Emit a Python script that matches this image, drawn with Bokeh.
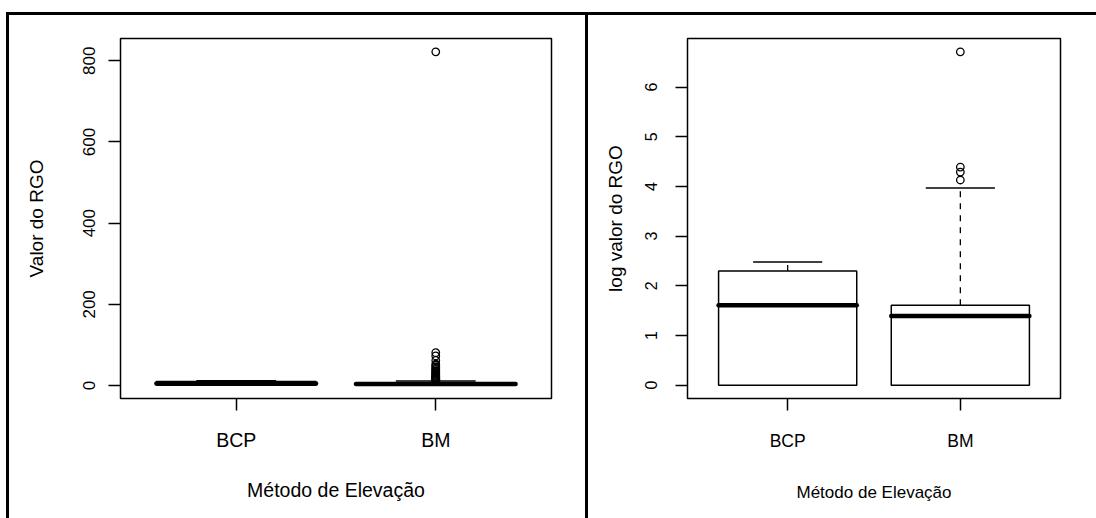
from bokeh.plotting import figure
from bokeh.layouts import row
from bokeh.models import Range1d, FactorRange, ColumnDataSource, SingleIntervalTicker
from bokeh.transform import dodge
from bokeh.embed import file_html
from bokeh.resources import INLINE

categories = ["BCP", "BM"]

# Left panel: raw RGO values (box statistics)
raw_low = [1, 1]
raw_q1 = [1, 1]
raw_median = [5, 4]
raw_q3 = [10, 5]
raw_high = [12, 11]
raw_out_cat = ["BM"] * 24
raw_out_val = [12.5, 13, 14, 15, 16, 18, 20, 21, 23, 25, 27, 30, 32, 35, 37, 40,
               43, 46, 50, 53, 62, 73, 81, 822]

# Right panel: log of RGO values
log_low = [0, 0]
log_q1 = [0, 0]
log_median = [1.61, 1.39]
log_q3 = [2.30, 1.61]
log_high = [2.48, 3.97]
log_out_cat = ["BM"] * 4
log_out_val = [4.13, 4.29, 4.39, 6.71]

FONT = "Liberation Sans"


def panel(width, height, borders, lo, q1, med, q3, hi, ocat, oval, tick_iv,
          ylabel, fonts, ystand, xstand, styles):
    allv = lo + hi + oval
    vmin, vmax = min(allv), max(allv)
    pad = 0.04 * (vmax - vmin)
    p = figure(width=width, height=height, output_backend="svg", toolbar_location=None,
               x_range=FactorRange(factors=categories, range_padding=0.08),
               y_range=Range1d(vmin - pad, vmax + pad),
               min_border_left=borders[0], min_border_right=borders[1],
               min_border_top=borders[2], min_border_bottom=borders[3],
               styles=styles)
    p.background_fill_color = "white"
    p.border_fill_color = "white"
    p.grid.visible = False
    p.outline_line_color = "black"
    p.outline_line_width = 1.5
    src = ColumnDataSource(dict(cat=categories, lo=lo, q1=q1, med=med, q3=q3, hi=hi))
    # whiskers (dashed)
    p.segment(x0="cat", y0="q3", x1="cat", y1="hi", source=src, line_color="black",
              line_width=1.3, line_dash="6 6")
    p.segment(x0="cat", y0="lo", x1="cat", y1="q1", source=src, line_color="black",
              line_width=1.3, line_dash="6 6")
    # staples
    for col in ("hi", "lo"):
        p.segment(x0=dodge("cat", -0.2, range=p.x_range), y0=col,
                  x1=dodge("cat", 0.2, range=p.x_range), y1=col, source=src,
                  line_color="black", line_width=1.5)
    # boxes
    p.quad(left=dodge("cat", -0.4, range=p.x_range), right=dodge("cat", 0.4, range=p.x_range),
           bottom="q1", top="q3", source=src, fill_color="white", line_color="black",
           line_width=1.5)
    # medians
    p.segment(x0=dodge("cat", -0.4, range=p.x_range), y0="med",
              x1=dodge("cat", 0.4, range=p.x_range), y1="med", source=src,
              line_color="black", line_width=4.5, line_cap="round")
    # outliers
    osrc = ColumnDataSource(dict(cat=ocat, val=oval))
    p.scatter(x="cat", y="val", source=osrc, marker="circle", size=7.5,
              fill_color=None, line_color="black", line_width=1.3)

    p.yaxis.ticker = SingleIntervalTicker(interval=tick_iv, num_minor_ticks=0)
    for ax in (p.xaxis[0], p.yaxis[0]):
        ax.axis_line_color = None
        ax.major_tick_out = 12
        ax.major_tick_in = 0
        ax.major_tick_line_width = 1.5
        ax.major_tick_line_color = "black"
        ax.minor_tick_line_color = None
        ax.major_label_text_font = FONT
        ax.major_label_text_color = "black"
        ax.axis_label_text_font = FONT
        ax.axis_label_text_font_style = "normal"
        ax.axis_label_text_color = "black"
    xt, xl, yt, yl = fonts
    p.xaxis.major_label_text_font_size = f"{xt}px"
    p.xaxis.axis_label_text_font_size = f"{xl}px"
    p.yaxis.major_label_text_font_size = f"{yt}px"
    p.yaxis.axis_label_text_font_size = f"{yl}px"
    p.yaxis.major_label_orientation = "vertical"
    p.yaxis.major_label_standoff = ystand[0]
    p.yaxis.axis_label_standoff = ystand[1]
    p.xaxis.major_label_standoff = xstand[0]
    p.xaxis.axis_label_standoff = xstand[1]
    p.yaxis.axis_label = ylabel
    p.xaxis.axis_label = "Método de Elevação"
    return p


p1 = panel(582, 506, (111, 40, 22, 123), raw_low, raw_q1, raw_median, raw_q3, raw_high,
           raw_out_cat, raw_out_val, 200, "Valor do RGO", (19.5, 19.5, 17, 19), (13, 34), (18, 25),
           {"border-top": "3px solid black", "border-left": "3px solid black",
            "border-right": "3px solid black", "margin-top": "12px", "margin-left": "6px"})
p2 = panel(508, 506, (99, 36, 23, 119), log_low, log_q1, log_median, log_q3, log_high,
           log_out_cat, log_out_val, 1, "log valor do RGO", (17.5, 17, 16, 19), (18, 17), (20, 29),
           {"border-top": "3px solid black", "margin-top": "12px"})

layout = row(p1, p2, styles={"gap": "0px"}, spacing=0)
open("out.html", "w").write(file_html(layout, INLINE))
